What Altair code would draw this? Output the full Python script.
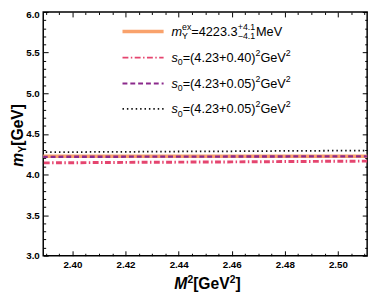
import altair as alt
import pandas as pd

# ---- data ----
M2 = [2.38, 2.40, 2.42, 2.44, 2.46, 2.48, 2.50, 2.52]
m_exp = [4.2233, 4.2233, 4.2233, 4.2233, 4.2233, 4.2233, 4.2233, 4.2233]
m_s040 = [4.141, 4.145, 4.149, 4.152, 4.155, 4.159, 4.163, 4.166]
m_s005a = [4.217, 4.218, 4.219, 4.220, 4.221, 4.222, 4.223, 4.224]
m_s005b = [4.272, 4.276, 4.279, 4.283, 4.286, 4.290, 4.293, 4.297]

series = ["exp", "s040", "s005a", "s005b"]
colors = ["#F9A26C", "#E5456F", "#8B2A8C", "#111111"]
dashes = [[1, 0], [6, 2.5, 1.5, 2.5], [5, 3], [1.5, 3]]
widths = [3.6, 1.8, 2.2, 1.7]

x_major = [2.40, 2.42, 2.44, 2.46, 2.48, 2.50]
x_minor = [2.39, 2.395, 2.405, 2.41, 2.415, 2.425, 2.43, 2.435, 2.445, 2.45, 2.455,
           2.465, 2.47, 2.475, 2.485, 2.49, 2.495, 2.505, 2.51]
y_major = [3.0, 3.5, 4.0, 4.5, 5.0, 5.5, 6.0]
y_minor = [3.1, 3.2, 3.3, 3.4, 3.6, 3.7, 3.8, 3.9, 4.1, 4.2, 4.3, 4.4, 4.6, 4.7, 4.8, 4.9,
           5.1, 5.2, 5.3, 5.4, 5.6, 5.7, 5.8, 5.9]

rows = []
for name, vals in zip(series, [m_exp, m_s040, m_s005a, m_s005b]):
    for xv, yv in zip(M2, vals):
        rows.append({"M2": xv, "m": yv, "s": name})
df = pd.DataFrame(rows)

W, H = 331, 249
FONT = "Liberation Sans"

xs = alt.Scale(domain=[2.389, 2.511], nice=False, zero=False)
ys = alt.Scale(domain=[3.0, 6.0], nice=False, zero=False)


def ax(orient, values, major, labels):
    size = 5 if major else 2.5
    kw = dict(orient=orient, values=values, tickSize=size, offset=-size, domain=False,
              grid=False, title=None, tickColor="black", tickWidth=1, labels=labels)
    if labels:
        kw.update(labelFont=FONT, labelFontSize=10, labelFontWeight="bold",
                  labelColor="black", labelPadding=4, labelFlush=False)
        if orient in ("bottom", "top"):
            kw["format"] = ".2f"
        else:
            kw["format"] = ".1f"
            kw["labelOffset"] = {"condition": {"test": "datum.value >= 5.99", "value": 3},
                                 "value": 0}
    return alt.Axis(**kw)


lines = alt.Chart(df).mark_line(clip=True).encode(
    x=alt.X("M2:Q", scale=xs, axis=ax("bottom", x_major, True, True)),
    y=alt.Y("m:Q", scale=ys, axis=ax("left", y_major, True, True)),
    color=alt.Color("s:N", scale=alt.Scale(domain=series, range=colors), legend=None),
    strokeDash=alt.StrokeDash("s:N", scale=alt.Scale(domain=series, range=dashes), legend=None),
    strokeWidth=alt.StrokeWidth("s:N", scale=alt.Scale(domain=series, range=widths), legend=None),
    order=alt.Order("M2:Q"),
)


def axis_layer(xorient, yorient, major):
    return alt.Chart(df).mark_line(strokeOpacity=0, clip=True).encode(
        x=alt.X("M2:Q", scale=xs, axis=ax(xorient, x_major if major else x_minor, major, False)),
        y=alt.Y("m:Q", scale=ys, axis=ax(yorient, y_major if major else y_minor, major, False)),
        detail="s:N",
    )


layers = [lines,
          axis_layer("bottom", "left", False),
          axis_layer("top", "right", True),
          axis_layer("top", "right", False)]


def txt(s, x, y, size, italic=False, bold=False, angle=0):
    return alt.Chart(pd.DataFrame({"t": [s]})).mark_text(
        align="left", baseline="alphabetic", font=FONT, fontSize=size,
        fontStyle="italic" if italic else "normal",
        fontWeight="bold" if bold else "normal", angle=angle, color="black",
    ).encode(text="t:N", x=alt.value(x), y=alt.value(y))


def rule(i, y):
    return alt.Chart(pd.DataFrame({"a": [0]})).mark_rule(
        color=colors[i], strokeDash=dashes[i], strokeWidth=widths[i]
    ).encode(x=alt.value(81), x2=alt.value(123), y=alt.value(y))


extra = []
legend_y = [20, 46.5, 73, 99]
# row 1
y0 = legend_y[0]
extra += [rule(0, y0),
          txt("m", 131, y0 + 4.5, 13, italic=True),
          txt("ex", 141.8, y0 - 1.5, 9),
          txt("Υ", 141.8, y0 + 8, 9),
          txt("=4223.3", 151.3, y0 + 4.5, 13),
          txt("+4.1", 198.8, y0 - 1.5, 9),
          txt("\u22124.1", 198.8, y0 + 8, 9),
          txt("MeV", 217.4, y0 + 4.5, 13)]
s0_labels = ["=(4.23+0.40)", "=(4.23+0.05)", "=(4.23+0.05)"]
for k, lab in enumerate(s0_labels):
    y0 = legend_y[k + 1]
    extra += [rule(k + 1, y0),
              txt("s", 131, y0 + 4.5, 13, italic=True),
              txt("0", 137.5, y0 + 8, 9),
              txt(lab, 142.5, y0 + 4.5, 13),
              txt("2", 216.9, y0 - 1.5, 9),
              txt("GeV", 221.9, y0 + 4.5, 13),
              txt("2", 247.9, y0 - 1.5, 9)]

# x axis title  M^2[GeV^2]
bx, by = 134, 283
extra += [txt("M", bx, by, 16, italic=True, bold=True),
          txt("2", bx + 13.3, by - 6.5, 10.5, bold=True),
          txt("[GeV", bx + 19.2, by, 16, bold=True),
          txt("2", bx + 56.5, by - 6.5, 10.5, bold=True),
          txt("]", bx + 62.4, by, 16, bold=True)]

# y axis title  m_Y[GeV]  (rotated)
tx, ty = -21.0, 158
extra += [txt("m", tx, ty, 16, italic=True, bold=True, angle=270),
          txt("Υ", tx + 3.5, ty - 14.2, 10.5, bold=True, angle=270),
          txt("[GeV]", tx, ty - 21.4, 16, bold=True, angle=270)]

chart = alt.layer(*layers, *extra).resolve_axis(
    x="independent", y="independent"
).properties(
    width=W, height=H,
    autosize=alt.AutoSizeParams(type="none"),
    padding={"left": 36, "top": 1, "right": 7, "bottom": 36},
    background="white",
).configure_view(stroke="black", strokeWidth=1.5)

chart.save("out.html", embed_options={"renderer": "svg", "actions": False})
